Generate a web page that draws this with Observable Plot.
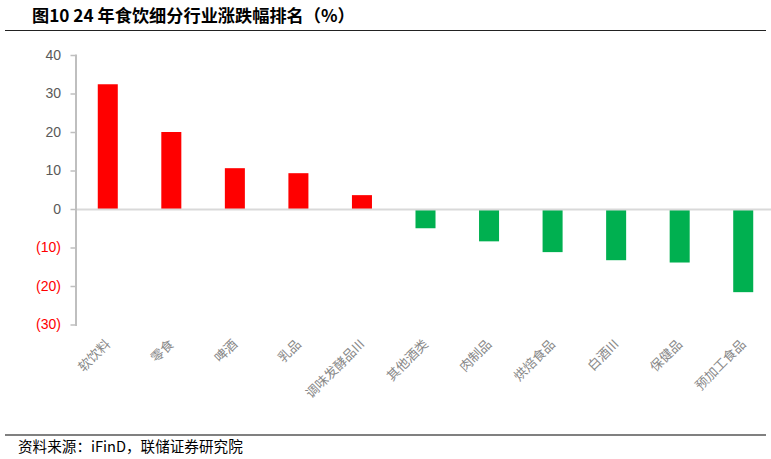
<!DOCTYPE html>
<html><head><meta charset="utf-8">
<script src="https://cdn.jsdelivr.net/npm/d3@7"></script>
<script src="https://cdn.jsdelivr.net/npm/@observablehq/plot@0.6"></script>
<style>
body{margin:0;background:#fff;width:771px;height:459px;overflow:hidden;position:relative;font-family:"Noto Sans CJK SC",sans-serif;}
#title{position:absolute;left:32px;top:3px;font-size:17.2px;font-weight:bold;color:#000;white-space:nowrap;line-height:24px;}
#topline{position:absolute;left:5px;top:30px;width:761px;height:0;border-top:1.5px solid #222;}
#chart{position:absolute;left:0;top:32px;}
#botline{position:absolute;left:5px;top:434px;width:761px;height:0;border-top:2px solid #808080;}
#foot{position:absolute;left:18px;top:436px;font-size:14.6px;color:#000;white-space:nowrap;line-height:20px;}
</style></head>
<body>
<div id="title">图10 24 年食饮细分行业涨跌幅排名（%）</div>
<div id="topline"></div>
<div id="chart"></div>
<div id="botline"></div>
<div id="foot">资料来源：iFinD，联储证券研究院</div>
<script>
const categories = ["软饮料","零食","啤酒","乳品","调味发酵品III","其他酒类","肉制品","烘焙食品","白酒III","保健品","预加工食品"];
const values = [32.4, 20.0, 10.6, 9.3, 3.6, -5.0, -8.4, -11.2, -13.3, -13.9, -21.6];
const yTicks = [40, 30, 20, 10, 0, -10, -20, -30];

const data = categories.map((c, i) => ({category: c, value: values[i]}));
const fmt = d => d < 0 ? `(${-d})` : `${d}`;

const plot = Plot.plot({
  width: 771,
  height: 402,
  marginTop: 23,
  marginBottom: 109.5,
  marginLeft: 75.5,
  marginRight: 0,
  style: {fontFamily: "'Noto Sans CJK SC', sans-serif", background: "transparent", overflow: "visible"},
  x: {domain: categories, range: [76, 775], paddingInner: 0.685, paddingOuter: 0.3425, align: 0.5, round: false, label: null},
  y: {domain: [-30, 40], label: null},
  marks: [
    Plot.barY(data, {x: "category", y: "value", fill: d => d.value >= 0 ? "#ff0000" : "#00b050"}),
    Plot.ruleY([0], {stroke: "#d9d9d9", strokeWidth: 2}),
    Plot.axisY(yTicks, {tickSize: 5, stroke: "#bfbfbf", strokeWidth: 1.5, tickFormat: () => "", label: null}),
    Plot.frame({anchor: "left", stroke: "#bfbfbf", strokeWidth: 2}),
    Plot.text(yTicks, {y: d => d, text: fmt, frameAnchor: "left", textAnchor: "end", dx: -15,
      fill: d => d < 0 ? "#ff0000" : "#595959", fontSize: 14, fontFamily: "Liberation Sans, Arial, sans-serif"}),
    Plot.axisX({tickSize: 0, tickRotate: -45, tickPadding: 17, fill: "#888888", fontSize: 13, label: null})
  ]
});
document.getElementById("chart").appendChild(plot);
</script>
</body></html>
